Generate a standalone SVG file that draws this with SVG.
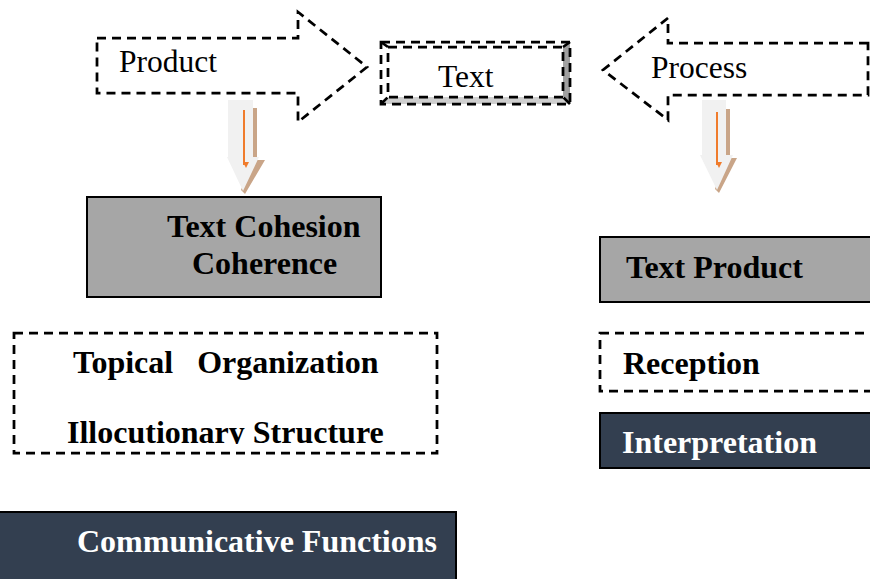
<svg xmlns="http://www.w3.org/2000/svg" width="870" height="579" viewBox="0 0 870 579">
<style>
.dash{fill:none;stroke:#000;stroke-width:2.75;stroke-dasharray:9 6}
.reg{font-family:"Liberation Serif","Times New Roman",serif;font-size:31.5px;fill:#000}
.bold{font-family:"Liberation Serif","Times New Roman",serif;font-size:32px;font-weight:bold;fill:#000}
.white{fill:#fff}
.gray{fill:#a6a6a6;stroke:#000;stroke-width:2}
.navy{fill:#333f50;stroke:#000;stroke-width:2}
.down{fill:#f1f1f1}
.shadow{fill:#c9a588}
.orange{stroke:#f07c2c;stroke-width:2;fill:none}
</style>
<defs>
<marker id="oh" viewBox="0 0 6 6" refX="3" refY="5" markerWidth="6" markerHeight="6" orient="auto-start-reverse" markerUnits="userSpaceOnUse">
<path d="M0,0 L6,0 L3,6 Z" fill="#f07c2c" transform="rotate(-90 3 3)"/>
</marker>
<clipPath id="clipIllo"><rect x="0" y="400" width="450" height="44"/></clipPath>
</defs>
<rect width="870" height="579" fill="#fff"/>

<g id="product">
<path class="dash" d="M97,38 L298,38 L298,12 L367,67 L298,122 L298,93 L97,93 Z"/>
<text class="reg" x="119" y="72">Product</text>
</g>

<g id="text">
<polygon points="570,42 570,104 563,97 563,47" fill="#a0a0a0"/>
<polygon points="381,104 570,104 563,97 388,97" fill="#cfcfcf"/>
<rect class="dash" x="381" y="42" width="189" height="62"/>
<rect class="dash" x="388" y="47" width="175" height="50"/>
<path class="dash" d="M381,42 L388,47 M570,42 L563,47 M381,104 L388,97 M570,104 L563,97"/>
<text class="reg" x="438" y="87">Text</text>
</g>

<g id="process">
<path class="dash" d="M868,43 L668,43 L668,18 L603,70 L668,120 L668,95 L868,95 Z"/>
<text class="reg" x="651" y="78">Process</text>
</g>

<g id="connectors">
<g id="arrow-left">
<polygon class="shadow" points="253,108 257,108 257,160 265,160 245,194 241,190 253,157"/>
<polygon class="down" points="228,100 253,100 253,157 259,157 243,191 227,157 228,157"/>
<line class="orange" x1="244" y1="110" x2="244" y2="165" marker-end="url(#oh)"/>
</g>
<g id="arrow-right">
<polygon class="shadow" points="726,109 730,109 730,158 737,158 719,193 715,189 726,155"/>
<polygon class="down" points="702,100 726,100 726,155 733,155 717,190 700,155 702,155"/>
<line class="orange" x1="717" y1="112" x2="717" y2="165" marker-end="url(#oh)"/>
</g>
</g>

<g id="cohesion">
<rect class="gray" x="87" y="197" width="294" height="100"/>
<text class="bold" x="167" y="237">Text Cohesion</text>
<text class="bold" x="192" y="274">Coherence</text>
</g>

<g id="textproduct">
<rect class="gray" x="600" y="237" width="275" height="65"/>
<text class="bold" x="626" y="278">Text Product</text>
</g>

<g id="topical">
<rect class="dash" x="14" y="333" width="423" height="120"/>
<text class="bold" x="73" y="373" xml:space="preserve">Topical   Organization</text>
<text class="bold" x="67" y="443" clip-path="url(#clipIllo)">Illocutionary Structure</text>
</g>

<g id="reception">
<rect class="dash" x="600" y="333" width="280" height="58"/>
<text class="bold" x="623" y="374">Reception</text>
</g>

<g id="interpretation">
<rect class="navy" x="600" y="413" width="280" height="55"/>
<text class="bold white" x="622" y="453">Interpretation</text>
</g>

<g id="communicative">
<rect class="navy" x="-2" y="512" width="458" height="70"/>
<text class="bold white" x="77" y="552">Communicative Functions</text>
</g>
</svg>
